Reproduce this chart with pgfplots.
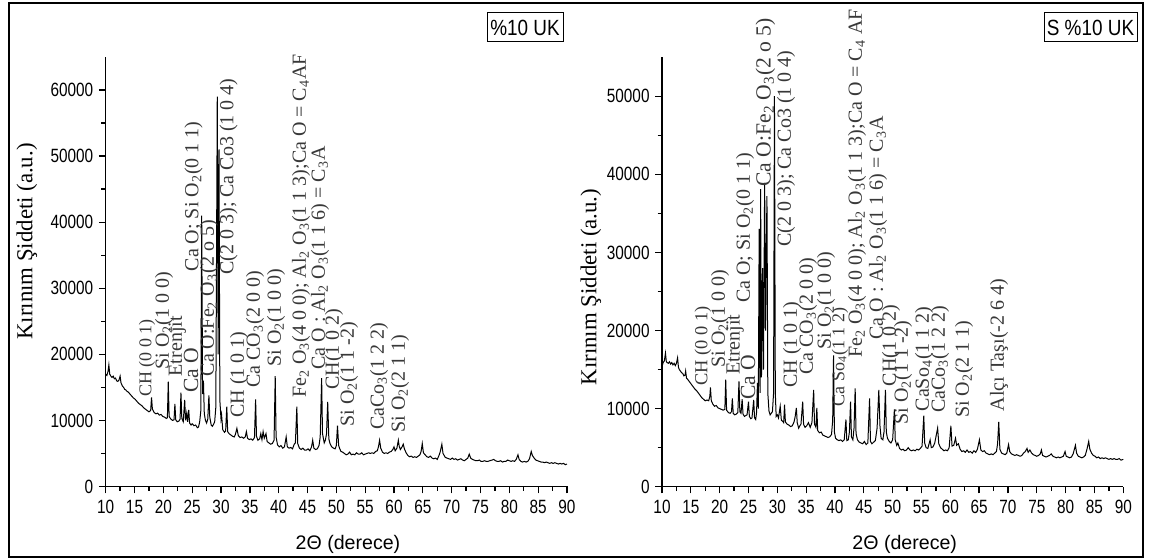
\documentclass[border=0pt]{standalone}
\usepackage{pgfplots}
\usepackage{pgfplotstable}
\pgfplotsset{compat=1.18}
\usepackage{fontspec}
\setmainfont{Liberation Serif}
\setsansfont{Liberation Sans}
\newcommand\sub[1]{\textsubscript{#1}}
\newcommand\ann{\fontsize{10}{11}\selectfont}
\colorlet{annc}{black!78}

\pgfplotstableread{
x y
10.0 17000
10.2 16800
10.4 17400
10.55 18400
10.7 17000
10.9 16700
11.1 16500
11.3 16700
11.5 16300
11.7 16400
11.9 16000
12.1 15900
12.3 16100
12.5 16700
12.65 15700
12.9 15200
13.1 15000
13.3 14700
13.5 14600
13.7 14400
13.9 14300
14.2 14000
14.5 13700
14.8 13400
15.1 13200
15.4 12900
15.7 12600
16.0 12400
16.3 12200
16.6 11900
16.9 11700
17.2 11500
17.5 11300
17.8 11500
17.95 13500
18.1 11700
18.4 11200
18.7 11000
19.0 11100
19.3 10800
19.6 10900
19.9 10600
20.2 10500
20.5 10300
20.7 10400
20.85 15850
21.0 10600
21.3 10200
21.6 10000
21.85 10100
22.0 12500
22.15 10100
22.4 9800
22.7 9900
22.9 10200
23.05 14200
23.2 10300
23.45 9800
23.7 13100
23.85 10000
24.05 11100
24.2 9800
24.4 11600
24.55 9600
24.8 9300
25.0 9500
25.3 9200
25.6 9300
25.9 8900
26.1 9000
26.3 9800
26.5 11500
26.65 41000
26.8 14000
26.95 16000
27.1 11000
27.3 10000
27.5 9600
27.7 10200
27.9 13800
28.05 10500
28.3 9300
28.5 9100
28.7 9400
28.9 9800
29.1 12000
29.35 59000
29.5 20000
29.65 51000
29.8 13000
30.0 10200
30.1 10800
30.3 8600
30.6 8200
30.8 8400
31.0 12100
31.15 8300
31.4 8000
31.7 7800
32.0 7600
32.3 7500
32.5 7900
32.75 8800
33.0 7700
33.3 7400
33.6 7500
33.9 7300
34.2 7500
34.4 8300
34.6 7300
34.9 7100
35.2 7200
35.5 7000
35.8 7400
36.0 13200
36.15 7600
36.4 7000
36.7 7200
36.9 8000
37.1 7100
37.3 8300
37.5 7300
37.8 8000
38.0 6800
38.3 6600
38.6 6400
38.9 6500
39.2 7000
39.4 16700
39.55 7500
39.8 6300
40.1 6000
40.4 6200
40.7 5800
41.0 6000
41.3 7500
41.5 6000
41.8 5800
42.1 5900
42.4 5700
42.7 6400
42.9 6600
43.15 12100
43.3 6500
43.6 5800
43.9 5600
44.2 5800
44.5 5500
44.8 5500
45.1 5700
45.4 5400
45.7 6000
45.9 7000
46.1 5800
46.4 5600
46.7 5700
47.0 6200
47.2 7500
47.45 16400
47.6 8000
47.9 6600
48.1 7000
48.3 8000
48.5 12800
48.7 7200
48.9 6500
49.2 6000
49.5 5800
49.8 5700
50.0 6200
50.2 9200
50.4 6200
50.6 5700
50.8 5300
51.1 5200
51.4 5000
51.7 4800
52.0 4900
52.3 5200
52.6 4800
52.9 4900
53.2 4800
53.5 5100
53.8 4900
54.1 4900
54.4 5100
54.7 4800
55.0 4900
55.3 5000
55.6 5100
55.9 5000
56.2 5100
56.5 5000
56.8 5300
57.1 5400
57.3 6000
57.5 7000
57.7 5800
58.0 5200
58.3 5000
58.6 5100
58.9 5000
59.2 5200
59.5 5300
59.8 5600
60.0 6000
60.2 5400
60.5 5800
60.75 7000
60.9 6100
61.1 5600
61.4 6000
61.6 6400
61.8 5700
62.1 5100
62.4 4700
62.7 4500
63.0 4600
63.3 4400
63.6 4500
63.9 4400
64.2 4600
64.5 4800
64.7 5300
64.9 6500
65.1 5100
65.4 4800
65.7 4500
66.0 4400
66.3 4600
66.6 4300
66.9 4200
67.2 4300
67.5 4100
67.8 4700
68.0 5200
68.3 6400
68.5 5000
68.7 4700
68.9 4400
69.2 4300
69.5 4200
69.8 4100
70.1 4300
70.4 4100
70.7 4200
71.0 4000
71.3 4100
71.6 4200
71.9 4000
72.2 3900
72.5 4100
72.8 4300
73.05 4900
73.3 4300
73.6 4100
73.9 4000
74.2 3900
74.5 3900
74.8 4000
75.1 3800
75.4 3800
75.7 3900
76.0 3800
76.3 3800
76.6 3900
77.0 4000
77.3 4100
77.6 3900
77.9 3800
78.2 3800
78.5 3900
78.8 3700
79.1 3800
79.4 3800
79.7 4000
80.0 3900
80.3 3800
80.6 3900
80.9 3800
81.2 4100
81.5 4800
81.7 4100
82.0 3800
82.3 3700
82.6 3800
82.9 3700
83.2 3800
83.5 4200
83.8 5300
84.0 4700
84.3 4300
84.6 4000
84.9 3900
85.2 3800
85.5 3700
85.8 3700
86.1 3600
86.4 3700
86.7 3600
87.0 3500
87.3 3600
87.6 3500
87.9 3600
88.2 3500
88.5 3400
88.8 3500
89.1 3400
89.4 3500
89.7 3300
90.0 3400
}\leftdata

\pgfplotstableread{
x y
10.0 15400
10.2 15900
10.4 16100
10.6 17100
10.75 16000
10.9 15900
11.1 15800
11.3 16000
11.5 15700
11.7 15900
11.9 15600
12.1 15800
12.3 15500
12.5 15800
12.7 16500
12.85 15300
13.0 15000
13.2 14800
13.4 14600
13.6 14500
13.8 14200
14.0 14300
14.1 14800
14.25 13900
14.5 13700
14.8 13400
15.1 13100
15.4 12800
15.7 12500
16.0 12300
16.3 12000
16.6 11700
16.9 11400
17.2 11200
17.5 11000
17.8 11100
18.1 11000
18.3 11600
18.4 12700
18.55 11000
18.8 10600
19.1 10300
19.4 10400
19.7 10100
20.0 10000
20.3 9900
20.6 9800
20.9 9900
21.05 13700
21.2 9800
21.5 9500
21.8 9400
22.05 9600
22.2 11300
22.35 9400
22.6 9200
22.9 9300
23.15 9500
23.35 13500
23.5 9600
23.7 9400
23.9 11200
24.05 9300
24.3 9000
24.5 9100
24.75 9200
25.0 10900
25.15 9000
25.4 8700
25.6 8800
25.9 11100
26.05 8800
26.25 8600
26.4 9500
26.55 13300
26.7 10000
26.85 33000
27.0 12000
27.1 38100
27.25 14000
27.45 28000
27.6 15000
27.8 38900
27.95 20000
28.05 28000
28.2 37200
28.35 12000
28.55 9700
28.75 9200
28.95 9400
29.15 9600
29.35 12000
29.5 50000
29.65 12000
29.8 9000
30.0 9200
30.2 8800
30.5 10300
30.7 8500
30.9 8400
31.1 8200
31.25 10500
31.4 8300
31.7 8000
32.0 7900
32.3 7700
32.6 7800
32.9 8300
33.1 9000
33.3 10100
33.45 8200
33.7 7500
33.9 7800
34.1 8000
34.4 10900
34.55 8000
34.8 7600
35.1 7800
35.4 8200
35.7 7600
36.0 8200
36.3 12400
36.45 8000
36.7 7600
36.85 10100
37.0 7200
37.3 6900
37.6 7000
37.9 6600
38.2 6500
38.5 6400
38.8 6300
39.1 6400
39.4 6700
39.6 8500
39.75 16800
39.9 7000
40.1 6200
40.4 6000
40.7 5900
41.0 6000
41.3 5800
41.6 6000
41.9 8600
42.05 5900
42.3 6000
42.5 7000
42.7 10900
42.85 6400
43.1 6000
43.3 7500
43.5 12600
43.65 6800
43.9 6000
44.2 5700
44.5 5600
44.8 5500
45.1 5800
45.4 5400
45.7 5600
46.0 11300
46.15 5800
46.4 5500
46.7 5700
47.0 5900
47.3 7500
47.6 12400
47.8 7800
48.0 6200
48.3 6000
48.5 7000
48.75 12400
48.9 7000
49.1 6200
49.4 5800
49.7 5600
50.0 6000
50.3 9900
50.45 6000
50.7 5300
50.9 5600
51.2 4900
51.5 4700
51.8 4800
52.1 4600
52.4 4700
52.7 5000
53.0 4700
53.3 4600
53.6 4700
53.9 4600
54.2 4800
54.5 4700
54.8 4900
55.1 5200
55.4 9100
55.55 5600
55.8 5000
56.1 4900
56.5 6000
56.7 5000
57.0 5100
57.3 5600
57.8 7500
58.0 5500
58.3 5000
58.6 4800
58.9 4600
59.2 4700
59.5 4600
59.8 5000
60.1 7800
60.3 5200
60.6 5300
60.9 6200
61.1 5300
61.4 5500
61.7 4800
62.0 4500
62.3 4600
62.6 4400
62.9 4700
63.2 4400
63.5 4500
63.8 4300
64.1 4600
64.4 4400
64.7 4800
65.05 6000
65.3 4700
65.6 4500
65.9 4600
66.2 4300
66.5 4200
66.8 4100
67.1 4200
67.4 4100
67.7 4300
68.0 4500
68.2 5500
68.4 8300
68.6 4800
68.9 4300
69.2 4200
69.5 4100
69.8 4300
70.1 5400
70.3 4500
70.6 4200
70.9 4100
71.2 4000
71.5 4100
71.8 4000
72.1 3900
72.4 4000
72.7 4300
73.0 4500
73.3 4900
73.5 4400
73.8 4700
74.1 4300
74.4 4100
74.7 4000
75.0 3900
75.3 4000
75.6 4200
75.8 4700
76.0 4000
76.3 3900
76.6 3800
76.9 3900
77.2 4000
77.5 4200
77.8 3900
78.1 3800
78.4 3700
78.7 3800
79.0 3700
79.3 3800
79.6 3900
79.9 4500
80.1 3900
80.4 3800
80.7 3700
81.0 3800
81.3 4200
81.7 5300
81.9 4300
82.2 3900
82.5 3800
82.8 3700
83.1 3800
83.4 4000
83.7 4800
84.0 5800
84.2 4800
84.5 4300
84.8 4000
85.1 3900
85.4 3700
85.7 3800
86.0 3600
86.3 3700
86.6 3600
86.9 3700
87.2 3600
87.5 3500
87.8 3600
88.1 3500
88.4 3600
88.7 3500
89.0 3500
89.3 3600
89.6 3400
90.0 3500
}\rightdata

\pgfplotsset{xrdax/.style={
  scale only axis, width=230.65pt, height=214.75pt,
  axis x line*=bottom, axis y line*=left,
  axis line style={-, line width=0.65pt},
  xmin=10, xmax=90, ymin=0,
  xtick={10,15,20,25,30,35,40,45,50,55,60,65,70,75,80,85,90},
  minor x tick num=1, minor y tick num=1,
  tick align=outside, major tick length=3.4pt, minor tick length=2.2pt,
  every tick/.style={black, line width=0.65pt},
  ticklabel style={font=\sffamily\fontsize{9.6}{10}\selectfont, xscale=0.8},
  /pgf/number format/assume math mode=true,
  /pgf/number format/set thousands separator={},
  scaled y ticks=false,
  clip=false,
}}

\begin{document}
\begin{tikzpicture}
\useasboundingbox (0,0) rectangle (574.5pt,280pt);

\begin{axis}[xrdax, at={(52.85pt,36.75pt)}, anchor=south west,
  ymax=65000, ytick={0,10000,20000,30000,40000,50000,60000}]
\addplot[black, line width=0.5pt] table[x=x,y=y] {\leftdata};
\end{axis}

\begin{axis}[xrdax, at={(331pt,36.65pt)}, anchor=south west,
  ymax=55000, ytick={0,10000,20000,30000,40000,50000}]
\addplot[black, line width=0.5pt] table[x=x,y=y] {\rightdata};
\end{axis}

\begin{scope}[x=0.5pt, y=-0.5pt, shift={(0pt,280pt)}]
% outer frame
\draw[line width=1.1pt] (9,3) rectangle (1143,557);
% boxes
\draw[line width=0.5pt] (487,13) rectangle (563,42);
\node[font=\sffamily\fontsize{11}{12}\selectfont, xscale=0.86] at (525,27.5) {\%10 UK};
\draw[line width=0.5pt] (1044,13) rectangle (1137,42);
\node[font=\sffamily\fontsize{11}{12}\selectfont, xscale=0.86] at (1090.5,27.5) {S \%10 UK};
% axis titles
\node[font=\sffamily\fontsize{9.8}{11}\selectfont] at (348,544) {2Θ (derece)};
\node[font=\sffamily\fontsize{9.8}{11}\selectfont] at (904.7,544) {2Θ (derece)};
\node[rotate=90, font=\fontsize{11.4}{13}\selectfont] at (27,241.5) {Kırınım Şiddeti (a.u.)};
\node[rotate=90, font=\fontsize{11.4}{13}\selectfont] at (591,287) {Kırınım Şiddeti (a.u.)};

\tikzset{an/.style={rotate=90, anchor=west, inner sep=0pt, font=\ann, text=annc}}
% left annotations
\node[an, font=\fontsize{9}{10}\selectfont] at (147,397) {CH (0 0 1)};
\node[an] at (164,370) {Si O\sub{2}(1 0 0)};
\node[an] at (177.5,376.7) {Etrenjit};
\node[an, font=\fontsize{10.8}{12}\selectfont] at (191,393) {Ca O};
\node[an] at (193.5,271.7) {Ca O; Si O\sub{2}(0 1 1)};
\node[an] at (209,376.7) {Ca O:Fe\sub{2} O\sub{3}(2 o 5)};
\node[an] at (228.5,275) {C(2 0 3); Ca Co3 (1 0 4)};
\node[an] at (239,418) {CH (1 0 1)};
\node[an] at (255,388) {Ca CO\sub{3}(2 0 0)};
\node[an] at (276,366.7) {Si O\sub{2}(1 0 0)};
\node[an] at (301,398) {Fe\sub{2} O\sub{3}(4 0 0); Al\sub{2} O\sub{3}(1 1 3);Ca O = C\sub{4}AF};
\node[an] at (320,370) {Ca O : Al\sub{2} O\sub{3}(1 1 6) = C\sub{3}A};
\node[an] at (334,390) {CH(1 0 2)};
\node[an] at (349,426.7) {Si O\sub{2}(1 1 -2)};
\node[an] at (379,430) {CaCo\sub{3}(1 2 2)};
\node[an] at (400,433) {Si O\sub{2}(2 1 1)};
% right annotations
\node[an, font=\fontsize{9.2}{10}\selectfont] at (703,386) {CH (0 0 1)};
\node[an] at (720,368) {Si O\sub{2}(1 0 0)};
\node[an] at (735,375) {Etrenjit};
\node[an, font=\fontsize{10.8}{12}\selectfont] at (748,400) {Ca O};
\node[an] at (745,303.3) {Ca O; Si O\sub{2}(0 1 1)};
\node[an, font=\fontsize{10.8}{12}\selectfont] at (765.5,187) {Ca O:Fe\sub{2} O\sub{3}(2 o 5)};
\node[an] at (786,247) {C(2 0 3); Ca Co3 (1 0 4)};
\node[an] at (792,388) {CH (1 0 1)};
\node[an] at (808,375) {Ca CO\sub{3}(2 0 0)};
\node[an] at (826,350) {Si O\sub{2}(1 0 0)};
\node[an, font=\fontsize{9}{10}\selectfont] at (840,406.7) {Ca So\sub{4}(1 1 2)};
\node[an] at (857,358) {Fe\sub{2} O\sub{3}(4 0 0); Al\sub{2} O\sub{3}(1 1 3);Ca O = C\sub{4} AF};
\node[an] at (878,340) {Ca O : Al\sub{2} O\sub{3}(1 1 6) = C\sub{3}A};
\node[an] at (891,386.7) {CH(1 0 2)};
\node[an] at (903,425) {Si O\sub{2}(1 1 -2)};
\node[an] at (924,411.7) {CaSo\sub{4}(1 1 2)};
\node[an] at (940,413.3) {CaCo\sub{3}(1 2 2)};
\node[an] at (964,418.3) {Si O\sub{2}(2 1 1)};
\node[an] at (999,411.7) {Alçı Taşı(-2 6 4)};
\end{scope}
\end{tikzpicture}
\end{document}
